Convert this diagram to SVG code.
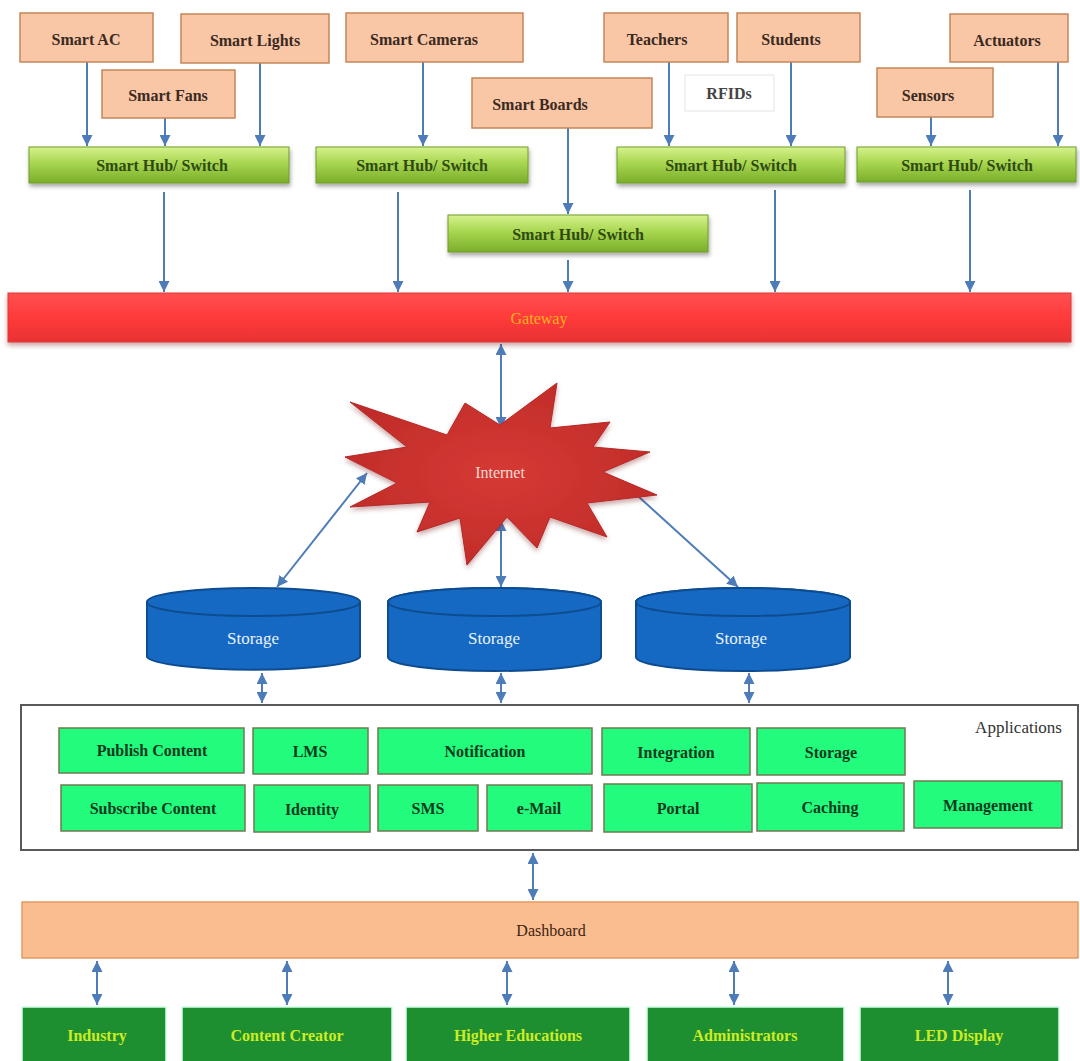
<svg xmlns="http://www.w3.org/2000/svg" width="1080" height="1061" viewBox="0 0 1080 1061">
  <defs>
    <style>
      text { font-family: "Liberation Serif", "Times New Roman", serif; text-anchor: middle; dominant-baseline: central; }
      .dev rect { fill: #F9C6A6; stroke: #C4865A; stroke-width: 1.5; }
      .dev text { font-size: 16px; font-weight: bold; fill: #3A2A22; }
      .hub rect { fill: url(#hubGrad); stroke: #6E9B2A; stroke-width: 1; filter: url(#shadow); }
      .hub text { font-size: 16px; font-weight: bold; fill: #2E4A12; }
      .app rect { fill: #22FB7C; stroke: #6F7A52; stroke-width: 1.5; }
      .app text { font-size: 16px; font-weight: bold; fill: #0E3A1E; }
      .user rect { fill: #1E8F30; stroke: #CFFFE4; stroke-width: 1.5; }
      .user text { font-size: 16px; font-weight: bold; fill: #CDEB24; }
      .store .body { fill: #1669C2; stroke: #0D4C90; stroke-width: 2; }
      .store text { font-size: 17px; fill: #EAF2FF; }
      .conn line { stroke: #4E7CB8; stroke-width: 2; }
      .one { marker-end: url(#head); }
      .two { marker-start: url(#head); marker-end: url(#head); }
    </style>
    <linearGradient id="hubGrad" x1="0" y1="0" x2="0" y2="1">
      <stop offset="0" stop-color="#D6F28C"/>
      <stop offset="0.45" stop-color="#A8D650"/>
      <stop offset="1" stop-color="#7AAE2A"/>
    </linearGradient>
    <linearGradient id="gateGrad" x1="0" y1="0" x2="0" y2="1">
      <stop offset="0" stop-color="#FF5050"/>
      <stop offset="0.5" stop-color="#FF3A3A"/>
      <stop offset="1" stop-color="#E83232"/>
    </linearGradient>
    <radialGradient id="starGrad" cx="0.5" cy="0.5" r="0.6">
      <stop offset="0" stop-color="#D63A34"/>
      <stop offset="1" stop-color="#BE2A28"/>
    </radialGradient>
    <filter id="shadow" x="-5%" y="-20%" width="110%" height="150%">
      <feDropShadow dx="1" dy="3" stdDeviation="2" flood-color="#000" flood-opacity="0.35"/>
    </filter>
    <filter id="soft" x="-10%" y="-10%" width="120%" height="130%">
      <feDropShadow dx="0" dy="3" stdDeviation="2.5" flood-color="#600" flood-opacity="0.35"/>
    </filter>
    <marker id="head" viewBox="0 0 10 10" refX="10" refY="5" markerWidth="11" markerHeight="11" markerUnits="userSpaceOnUse" orient="auto-start-reverse">
      <path d="M0,0 L10,5 L0,10 Z" fill="#4E7CB8"/>
    </marker>
  </defs>

  <rect width="1080" height="1061" fill="#FFFFFF"/>

  <!-- connectors -->
  <g id="connectors" class="conn">
    <!-- devices to hubs -->
    <line class="one" x1="87" y1="62" x2="87" y2="146"/>
    <line class="one" x1="165" y1="118" x2="165" y2="146"/>
    <line class="one" x1="260" y1="63" x2="260" y2="146"/>
    <line class="one" x1="423" y1="62" x2="423" y2="146"/>
    <line class="one" x1="568" y1="128" x2="568" y2="214"/>
    <line class="one" x1="669" y1="62" x2="669" y2="146"/>
    <line class="one" x1="791" y1="62" x2="791" y2="146"/>
    <line class="one" x1="931" y1="117" x2="931" y2="146"/>
    <line class="one" x1="1058" y1="62" x2="1058" y2="146"/>
    <!-- hubs to gateway -->
    <line class="one" x1="164" y1="192" x2="164" y2="292"/>
    <line class="one" x1="398" y1="192" x2="398" y2="292"/>
    <line class="one" x1="568" y1="260" x2="568" y2="292"/>
    <line class="one" x1="775" y1="190" x2="775" y2="292"/>
    <line class="one" x1="970" y1="190" x2="970" y2="292"/>
    <!-- gateway / internet / storage -->
    <line class="two" x1="501" y1="344" x2="501" y2="428"/>
    <line class="two" x1="501" y1="520" x2="501" y2="587"/>
    <line class="two" x1="367" y1="473" x2="277" y2="587"/>
    <line class="two" x1="628" y1="487" x2="738" y2="587"/>
    <!-- storage to applications -->
    <line class="two" x1="262" y1="673" x2="262" y2="703"/>
    <line class="two" x1="501" y1="673" x2="501" y2="703"/>
    <line class="two" x1="749" y1="673" x2="749" y2="703"/>
    <!-- applications to dashboard -->
    <line class="two" x1="533" y1="853" x2="533" y2="900"/>
    <!-- dashboard to users -->
    <line class="two" x1="97" y1="961" x2="97" y2="1005"/>
    <line class="two" x1="287" y1="961" x2="287" y2="1005"/>
    <line class="two" x1="507" y1="961" x2="507" y2="1005"/>
    <line class="two" x1="734" y1="961" x2="734" y2="1005"/>
    <line class="two" x1="948" y1="961" x2="948" y2="1005"/>
  </g>

  <!-- devices -->
  <g id="smart-ac" class="dev"><rect x="20" y="13" width="133" height="49"/><text x="86" y="39">Smart AC</text></g>
  <g id="smart-lights" class="dev"><rect x="181" y="14" width="148" height="49"/><text x="255" y="40">Smart Lights</text></g>
  <g id="smart-fans" class="dev"><rect x="102" y="70" width="133" height="48"/><text x="168" y="95">Smart Fans</text></g>
  <g id="smart-cameras" class="dev"><rect x="346" y="13" width="177" height="49"/><text x="424" y="39">Smart Cameras</text></g>
  <g id="smart-boards" class="dev"><rect x="472" y="78" width="180" height="50"/><text x="540" y="104">Smart Boards</text></g>
  <g id="teachers" class="dev"><rect x="604" y="13" width="124" height="49"/><text x="657" y="39">Teachers</text></g>
  <g id="students" class="dev"><rect x="737" y="13" width="123" height="49"/><text x="791" y="39">Students</text></g>
  <g id="rfids"><rect x="685" y="75" width="89" height="36" fill="#FFFFFF" stroke="#E4E4E4" stroke-width="1"/><text x="729" y="93" font-size="16" font-weight="bold" fill="#454545">RFIDs</text></g>
  <g id="sensors" class="dev"><rect x="877" y="68" width="116" height="49"/><text x="928" y="95">Sensors</text></g>
  <g id="actuators" class="dev"><rect x="950" y="14" width="118" height="48"/><text x="1007" y="40">Actuators</text></g>

  <!-- hubs -->
  <g id="hub-1" class="hub"><rect x="29" y="147" width="260" height="36"/><text x="162" y="165">Smart Hub/ Switch</text></g>
  <g id="hub-2" class="hub"><rect x="316" y="147" width="212" height="36"/><text x="422" y="165">Smart Hub/ Switch</text></g>
  <g id="hub-3" class="hub"><rect x="448" y="215" width="260" height="37"/><text x="578" y="234">Smart Hub/ Switch</text></g>
  <g id="hub-4" class="hub"><rect x="617" y="147" width="228" height="36"/><text x="731" y="165">Smart Hub/ Switch</text></g>
  <g id="hub-5" class="hub"><rect x="857" y="147" width="219" height="35"/><text x="967" y="165">Smart Hub/ Switch</text></g>

  <!-- gateway -->
  <g id="gateway">
    <rect x="8" y="293" width="1063" height="49" fill="url(#gateGrad)" stroke="#E23636" stroke-width="1" filter="url(#soft)"/>
    <text x="539" y="318" font-size="16" fill="#FFB21E">Gateway</text>
  </g>

  <!-- internet -->
  <g id="internet">
    <polygon points="350,402 447,435 465,403 500,425 557,383 550,428 610,422 593,447 650,452 603,472 657,495 587,503 607,537 550,517 537,548 507,517 467,565 460,518 417,532 430,502 350,507 397,483 345,457 407,447" fill="url(#starGrad)" stroke="#B42826" stroke-width="1" filter="url(#soft)"/>
    <text x="500" y="472" font-size="16" fill="#F8DAD4">Internet</text>
  </g>

  <!-- storage -->
  <g id="storage-1" class="store">
    <path class="body" d="M147,602 A107,14 0 0 1 360,602 L360,657 A107,14 0 0 1 147,657 Z"/>
    <ellipse cx="253.5" cy="602" rx="106.5" ry="14" fill="#1669C2" stroke="#0D4C90" stroke-width="2"/>
    <text x="253" y="638">Storage</text>
  </g>
  <g id="storage-2" class="store">
    <path class="body" d="M388,602 A106.5,14 0 0 1 601,602 L601,657 A106.5,14 0 0 1 388,657 Z"/>
    <ellipse cx="494.5" cy="602" rx="106.5" ry="14" fill="#1669C2" stroke="#0D4C90" stroke-width="2"/>
    <text x="494" y="638">Storage</text>
  </g>
  <g id="storage-3" class="store">
    <path class="body" d="M636,602 A107,14 0 0 1 850,602 L850,657 A107,14 0 0 1 636,657 Z"/>
    <ellipse cx="743" cy="602" rx="107" ry="14" fill="#1669C2" stroke="#0D4C90" stroke-width="2"/>
    <text x="741" y="638">Storage</text>
  </g>

  <!-- applications -->
  <g id="applications">
    <rect x="21" y="705" width="1057" height="145" fill="#FFFFFF" stroke="#5A5A5A" stroke-width="2"/>
    <text x="1062" y="727" font-size="17" fill="#333333" style="text-anchor:end">Applications</text>
  </g>
  <g id="app-publish" class="app"><rect x="59" y="728" width="185" height="45"/><text x="152" y="750">Publish Content</text></g>
  <g id="app-lms" class="app"><rect x="253" y="728" width="115" height="46"/><text x="310" y="751">LMS</text></g>
  <g id="app-notification" class="app"><rect x="378" y="728" width="214" height="46"/><text x="485" y="751">Notification</text></g>
  <g id="app-integration" class="app"><rect x="602" y="728" width="148" height="47"/><text x="676" y="752">Integration</text></g>
  <g id="app-storage" class="app"><rect x="757" y="728" width="148" height="47"/><text x="831" y="752">Storage</text></g>
  <g id="app-subscribe" class="app"><rect x="61" y="785" width="184" height="46"/><text x="153" y="808">Subscribe Content</text></g>
  <g id="app-identity" class="app"><rect x="254" y="785" width="116" height="47"/><text x="312" y="809">Identity</text></g>
  <g id="app-sms" class="app"><rect x="378" y="785" width="100" height="46"/><text x="428" y="808">SMS</text></g>
  <g id="app-email" class="app"><rect x="487" y="785" width="105" height="46"/><text x="539" y="808">e-Mail</text></g>
  <g id="app-portal" class="app"><rect x="604" y="784" width="148" height="48"/><text x="678" y="808">Portal</text></g>
  <g id="app-caching" class="app"><rect x="757" y="783" width="147" height="48"/><text x="830" y="807">Caching</text></g>
  <g id="app-management" class="app"><rect x="914" y="781" width="148" height="47"/><text x="988" y="805">Management</text></g>

  <!-- dashboard -->
  <g id="dashboard">
    <rect x="22" y="902" width="1056" height="56" fill="#FABD90" stroke="#E39A62" stroke-width="1.5"/>
    <text x="551" y="930" font-size="16" fill="#3E2410">Dashboard</text>
  </g>

  <!-- users -->
  <g id="user-industry" class="user"><rect x="22" y="1007" width="144" height="60"/><text x="97" y="1035">Industry</text></g>
  <g id="user-content-creator" class="user"><rect x="182" y="1007" width="210" height="60"/><text x="287" y="1035">Content Creator</text></g>
  <g id="user-higher-educations" class="user"><rect x="406" y="1007" width="224" height="60"/><text x="518" y="1035">Higher Educations</text></g>
  <g id="user-administrators" class="user"><rect x="647" y="1007" width="197" height="60"/><text x="745" y="1035">Administrators</text></g>
  <g id="user-led-display" class="user"><rect x="860" y="1007" width="199" height="60"/><text x="959" y="1035">LED Display</text></g>
</svg>
